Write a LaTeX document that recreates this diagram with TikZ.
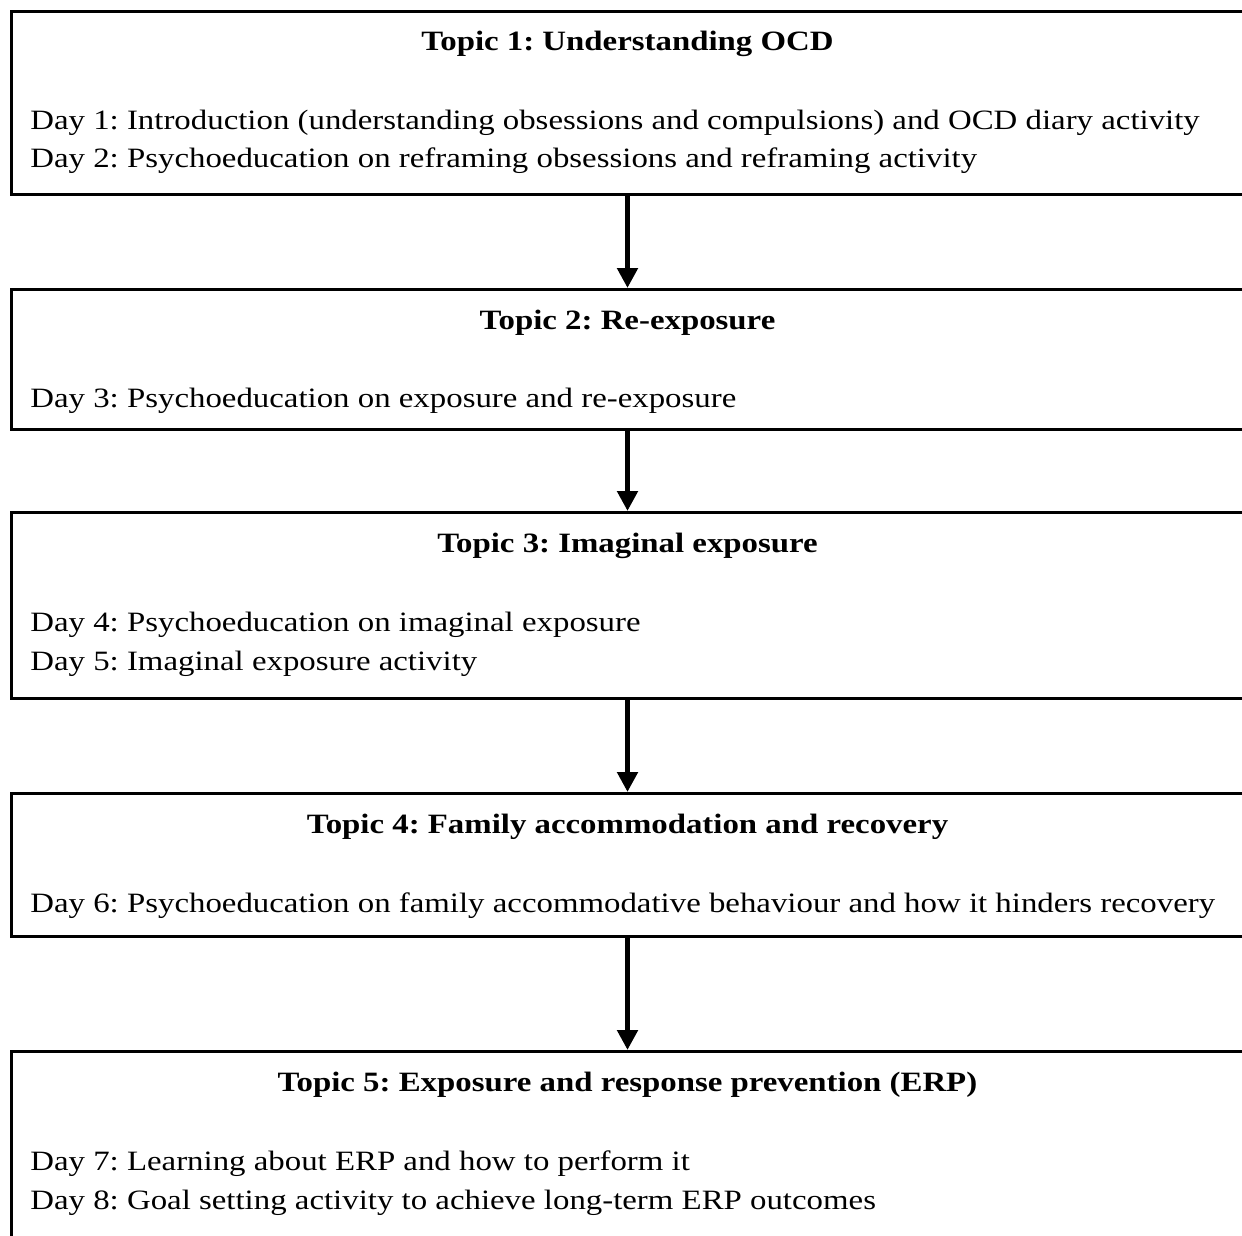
\documentclass[tikz,border=0pt]{standalone}
\usepackage{fontspec}
\setmainfont{Liberation Serif}[FakeStretch=1.173]
\usetikzlibrary{arrows.meta}
\frenchspacing
\begin{document}
\begin{tikzpicture}[x=0.5pt, y=-0.5pt,
	every node/.style = {font=\fontsize{14}{19.5}\selectfont, inner sep=0pt},
	topic/.style = {draw, line width=1.5pt, minimum width=616.5pt, anchor=north},
	title/.style = {anchor=base, font=\fontsize{14}{19.5}\selectfont\bfseries},
	day/.style = {anchor=base west},
	step arrow/.style = {line width=2.8pt, -{Triangle[length=10pt, width=10pt]}}]
	\useasboundingbox (0,0) rectangle (1242,1236);
	\node[topic, minimum height=91.5pt] (t1) at (627.5,10) {};
	\node[topic, minimum height=70pt] (t2) at (627.5,288) {};
	\node[topic, minimum height=93pt] (t3) at (627.5,511) {};
	\node[topic, minimum height=71.5pt] (t4) at (627.5,792) {};
	\node[topic, minimum height=110pt] (t5) at (627.5,1050) {};
	\node[title] (h1) at (627.5,51) {Topic 1: Understanding OCD};
	\node[day] (d1) at (30,130) {Day 1: Introduction (understanding obsessions and compulsions) and OCD diary activity};
	\node[day] (d2) at (30,168) {Day 2: Psychoeducation on reframing obsessions and reframing activity};
	\node[title] (h2) at (627.5,329) {Topic 2: Re-exposure};
	\node[day] (d3) at (30,407) {Day 3: Psychoeducation on exposure and re-exposure};
	\node[title] (h3) at (627.5,552) {Topic 3: Imaginal exposure};
	\node[day] (d4) at (30,631) {Day 4: Psychoeducation on imaginal exposure};
	\node[day] (d5) at (30,670) {Day 5: Imaginal exposure activity};
	\node[title] (h4) at (627.5,833) {Topic 4: Family accommodation and recovery};
	\node[day] (d6) at (30,912) {Day 6: Psychoeducation on family accommodative behaviour and how it hinders recovery};
	\node[title] (h5) at (627.5,1091) {Topic 5: Exposure and response prevention (ERP)};
	\node[day] (d7) at (30,1170) {Day 7: Learning about ERP and how to perform it};
	\node[day] (d8) at (30,1209) {Day 8: Goal setting activity to achieve long-term ERP outcomes};
	\draw[step arrow] (t1) -- (t2);
	\draw[step arrow] (t2) -- (t3);
	\draw[step arrow] (t3) -- (t4);
	\draw[step arrow] (t4) -- (t5);
\end{tikzpicture}
\end{document}
